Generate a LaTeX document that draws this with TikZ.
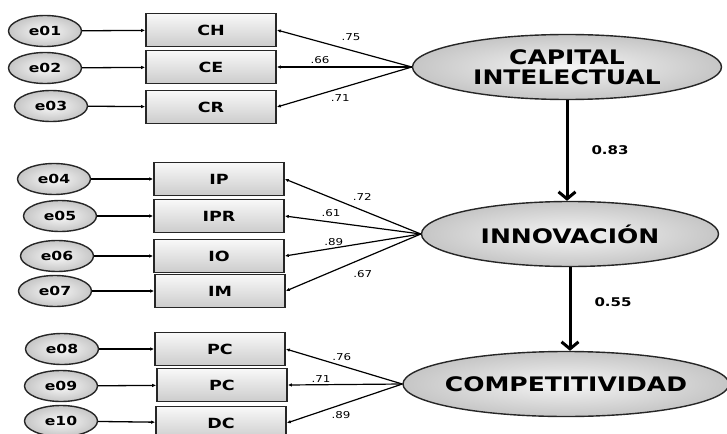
\documentclass[tikz,border=0pt]{standalone}
\usepackage{fontspec}
\setmainfont{DejaVu Sans}[FakeStretch=1.25]
\usetikzlibrary{shapes.geometric,arrows.meta}

\newlength{\du}
\setlength{\du}{1pt}

\tikzset{
  errvar/.style={ellipse, draw=black!85, line width=1.4pt, inner sep=0pt,
    minimum width=73\du, minimum height=31\du, inner color=gray!5, outer color=gray!45,
    font=\fontsize{12.5}{12.5}\selectfont\bfseries},
  obsvar/.style={rectangle, draw=black!85, line width=1.6pt, inner sep=0pt,
    minimum width=130\du, minimum height=33\du, top color=gray!5, bottom color=gray!40,
    font=\fontsize{14}{14}\selectfont\bfseries},
  latvar/.style={ellipse, draw=black!85, line width=1.4pt, inner sep=0pt,
    minimum height=65\du, inner color=gray!8, outer color=gray!45},
  lattext/.style={font=\fontsize{20}{20}\selectfont\bfseries, align=center},
  errarrow/.style={-{Latex[length=4pt,width=3.5pt]}, line width=1.3pt},
  loadarrow/.style={-{Latex[length=4pt,width=3.5pt]}, line width=1.2pt},
  regarrow/.style={-{Straight Barb[length=7pt,width=17pt]}, line width=3pt},
  coef/.style={font=\fontsize{9.5}{9.5}\selectfont, inner sep=1pt},
  regcoef/.style={font=\fontsize{12}{12}\selectfont\bfseries, inner sep=1pt}
}

\begin{document}
\begin{tikzpicture}
\pgftransformyscale{-1.000000}
\path[use as bounding box] (0\du,0\du) rectangle (727\du,433\du);
\clip (0\du,0\du) rectangle (727\du,433\du);

% capital intelectual
\node[errvar] (e01) at (45\du,31\du) {e01};
\node[errvar] (e02) at (45\du,68\du) {e02};
\node[errvar] (e03) at (51\du,106\du) {e03};
\node[obsvar] (ch) at (211\du,30\du) {CH};
\node[obsvar] (ce) at (211\du,67\du) {CE};
\node[obsvar] (cr) at (211\du,107\du) {CR};
\node[latvar, minimum width=309\du, label={[lattext]center:CAPITAL\\INTELECTUAL}] (capital) at (567\du,67\du) {};

% innovacion
\node[errvar] (e04) at (54\du,179\du) {e04};
\node[errvar] (e05) at (60\du,216\du) {e05};
\node[errvar] (e06) at (57\du,256\du) {e06};
\node[errvar] (e07) at (55\du,291\du) {e07};
\node[obsvar] (ip) at (219\du,179\du) {IP};
\node[obsvar] (ipr) at (219\du,216\du) {IPR};
\node[obsvar] (io) at (219\du,256\du) {IO};
\node[obsvar] (im) at (220\du,291\du) {IM};
\node[latvar, minimum width=297\du, label={[lattext]center:INNOVACIÓN}] (innov) at (570\du,234\du) {};

% competitividad
\node[errvar] (e08) at (62\du,349\du) {e08};
\node[errvar] (e09) at (61\du,386\du) {e09};
\node[errvar] (e10) at (61\du,421\du) {e10};
\node[obsvar] (pc1) at (220\du,349\du) {PC};
\node[obsvar] (pc2) at (222\du,385\du) {PC};
\node[obsvar] (dc) at (221\du,423\du) {DC};
\node[latvar, minimum width=326\du, label={[lattext]center:COMPETITIVIDAD}] (compet) at (566\du,384\du) {};

% errores
\draw[errarrow] (e01) -- (ch);
\draw[errarrow] (e02) -- (ce);
\draw[errarrow] (e03) -- (cr);
\draw[errarrow] (e04) -- (ip);
\draw[errarrow] (e05) -- (ipr);
\draw[errarrow] (e06) -- (io);
\draw[errarrow] (e07) -- (im);
\draw[errarrow] (e08) -- (pc1);
\draw[errarrow] (e09) -- (pc2);
\draw[errarrow] (e10) -- (dc);

% cargas
\draw[loadarrow] (capital.west) -- node[coef, pos=.45, above=8pt] {.75} (ch.east);
\draw[loadarrow] (capital.west) -- node[coef, pos=.68, above=2pt] {.66} (ce.east);
\draw[loadarrow] (capital.west) -- node[coef, pos=.53, below=5pt] {.71} (cr.east);

\draw[loadarrow] (innov.west) -- node[coef, pos=.43, above=8pt] {.72} (ip.east);
\draw[loadarrow] (innov.west) -- node[coef, pos=.66, above=4pt] {.61} (ipr.east);
\draw[loadarrow] (innov.west) -- node[coef, pos=.64, above=1pt] {.89} (io.east);
\draw[loadarrow] (innov.west) -- node[coef, pos=.43, below=10pt] {.67} (im.east);

\draw[loadarrow] (compet.west) -- node[coef, pos=.52, above=4pt] {.76} (pc1.east);
\draw[loadarrow] (compet.west) -- node[coef, pos=.71, above=1pt] {.71} (pc2.east);
\draw[loadarrow] (compet.west) -- node[coef, pos=.53, below=5pt] {.89} (dc.east);

% estructural
\draw[regarrow] (capital.south) -- node[regcoef, midway, right=22pt] {0.83} (capital.south |- innov.north);
\draw[regarrow] (innov.south) -- node[regcoef, pos=.42, right=22pt] {0.55} (innov.south |- compet.north);
\end{tikzpicture}
\end{document}
